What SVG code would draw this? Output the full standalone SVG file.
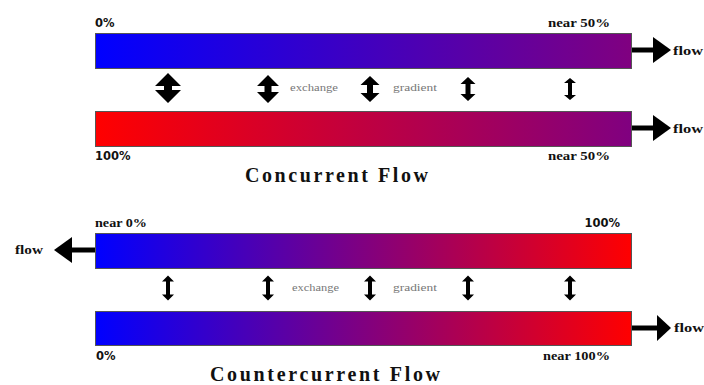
<svg xmlns="http://www.w3.org/2000/svg" width="704" height="385" viewBox="0 0 704 385">
<style>
.bar{stroke:#555;stroke-width:1}
.lbl{font-family:"Liberation Serif",serif;font-weight:bold;font-size:12px;fill:#111}
.pct{font-family:"DejaVu Sans",sans-serif;font-weight:bold;font-size:11.5px;fill:#111}
.small{font-family:"Liberation Serif",serif;font-size:9.5px;fill:#777}
.title{font-family:"Liberation Serif",serif;font-weight:bold;font-size:20px;fill:#111}
.arr{fill:#000}
.shaft{stroke:#000;stroke-width:5}
</style>
<defs>
<linearGradient id="bp" x1="0" x2="1" y1="0" y2="0"><stop offset="0" stop-color="#0000ff"/><stop offset="1" stop-color="#800080"/></linearGradient>
<linearGradient id="rp" x1="0" x2="1" y1="0" y2="0"><stop offset="0" stop-color="#ff0000"/><stop offset="1" stop-color="#800080"/></linearGradient>
<linearGradient id="br" x1="0" x2="1" y1="0" y2="0"><stop offset="0" stop-color="#0000ff"/><stop offset="0.5" stop-color="#800080"/><stop offset="1" stop-color="#ff0000"/></linearGradient>
<path id="dbl-s" d="M0,-12.5 L6,-6.5 L2,-6.5 L2,6.5 L6,6.5 L0,12.5 L-6,6.5 L-2,6.5 L-2,-6.5 L-6,-6.5 Z"/>
</defs>

<g id="concurrent-top">
<rect class="bar" x="95.5" y="33.5" width="536" height="35" fill="url(#bp)"/>
<text class="pct" x="95" y="27">0%</text>
<text class="lbl" x="610" y="27" text-anchor="end" textLength="62" lengthAdjust="spacingAndGlyphs">near 50%</text>
</g>
<g id="concurrent-bottom">
<rect class="bar" x="95.5" y="111.5" width="536" height="35" fill="url(#rp)"/>
<text class="pct" x="95" y="160">100%</text>
<text class="lbl" x="610" y="160" text-anchor="end" textLength="62" lengthAdjust="spacingAndGlyphs">near 50%</text>
</g>
<g id="concurrent-title"><text class="title" x="245" y="182" textLength="183" lengthAdjust="spacing">Concurrent Flow</text></g>

<g id="counter-top">
<rect class="bar" x="95.5" y="233.5" width="536" height="35" fill="url(#br)"/>
<text class="lbl" x="95" y="227" textLength="52" lengthAdjust="spacingAndGlyphs">near 0%</text>
<text class="pct" x="620" y="227" text-anchor="end">100%</text>
</g>
<g id="counter-bottom">
<rect class="bar" x="95.5" y="311.5" width="536" height="34" fill="url(#br)"/>
<text class="pct" x="96" y="360">0%</text>
<text class="lbl" x="610" y="360" text-anchor="end" textLength="67" lengthAdjust="spacingAndGlyphs">near 100%</text>
</g>
<g id="counter-title"><text class="title" x="210" y="381" textLength="230" lengthAdjust="spacing">Countercurrent Flow</text></g>

<g id="connectors">
<line class="shaft" x1="632" y1="50" x2="655" y2="50"/>
<path class="arr" d="M653,37 L671,50 L653,63 Z"/>
<line class="shaft" x1="632" y1="128" x2="655" y2="128"/>
<path class="arr" d="M653,115 L671,128 L653,141 Z"/>
<line class="shaft" x1="95" y1="250" x2="70" y2="250"/>
<path class="arr" d="M72,237 L54,250 L72,263 Z"/>
<line class="shaft" x1="632" y1="328" x2="659" y2="328"/>
<path class="arr" d="M657,315 L671,328 L657,341 Z"/>
<path class="arr" transform="translate(168,88)" d="M0,-15 L13,-2 L4,-2 L4,2 L13,2 L0,15 L-13,2 L-4,2 L-4,-2 L-13,-2 Z"/>
<path class="arr" transform="translate(268,89)" d="M0,-14 L11,-3 L3.5,-3 L3.5,3 L11,3 L0,14 L-11,3 L-3.5,3 L-3.5,-3 L-11,-3 Z"/>
<path class="arr" transform="translate(370,89)" d="M0,-13 L9.5,-4 L3,-4 L3,4 L9.5,4 L0,13 L-9.5,4 L-3,4 L-3,-4 L-9.5,-4 Z"/>
<path class="arr" transform="translate(468,89)" d="M0,-12 L7.5,-5 L2.5,-5 L2.5,5 L7.5,5 L0,12 L-7.5,5 L-2.5,5 L-2.5,-5 L-7.5,-5 Z"/>
<path class="arr" transform="translate(570,89)" d="M0,-11 L6,-6 L2,-6 L2,6 L6,6 L0,11 L-6,6 L-2,6 L-2,-6 L-6,-6 Z"/>
<use class="arr" href="#dbl-s" x="168" y="288"/>
<use class="arr" href="#dbl-s" x="268" y="288"/>
<use class="arr" href="#dbl-s" x="370" y="288"/>
<use class="arr" href="#dbl-s" x="468" y="288"/>
<use class="arr" href="#dbl-s" x="570" y="288"/>
</g>

<g id="labels">
<text class="lbl" x="673" y="55" textLength="30" lengthAdjust="spacingAndGlyphs">flow</text>
<text class="lbl" x="673" y="133" textLength="30" lengthAdjust="spacingAndGlyphs">flow</text>
<text class="lbl" x="15" y="254" textLength="28" lengthAdjust="spacingAndGlyphs">flow</text>
<text class="lbl" x="674" y="332" textLength="30" lengthAdjust="spacingAndGlyphs">flow</text>
<text class="small" x="290" y="91" textLength="48" lengthAdjust="spacingAndGlyphs">exchange</text>
<text class="small" x="393" y="91" textLength="44" lengthAdjust="spacingAndGlyphs">gradient</text>
<text class="small" x="292" y="291" textLength="47" lengthAdjust="spacingAndGlyphs">exchange</text>
<text class="small" x="393" y="291" textLength="44" lengthAdjust="spacingAndGlyphs">gradient</text>
</g>
</svg>
